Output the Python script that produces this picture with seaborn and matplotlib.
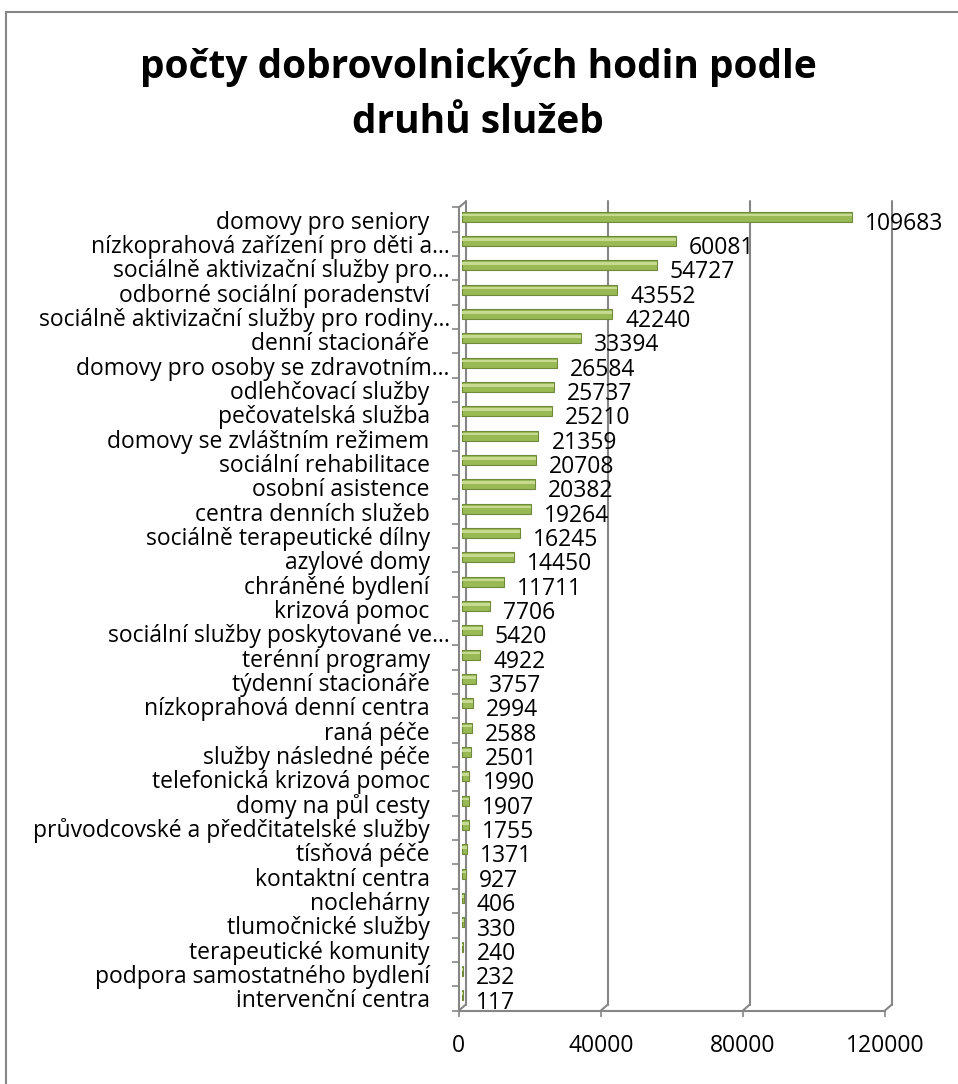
import matplotlib
matplotlib.use('Agg')
import matplotlib.pyplot as plt
import matplotlib.transforms as mtransforms
from matplotlib.patches import ConnectionPatch, Rectangle
import numpy as np
import pandas as pd
import seaborn as sns

services = [
    'domovy pro seniory', 'nízkoprahová zařízení pro děti a…',
    'sociálně aktivizační služby pro…', 'odborné sociální poradenství',
    'sociálně aktivizační služby pro rodiny…', 'denní stacionáře',
    'domovy pro osoby se zdravotním…', 'odlehčovací služby',
    'pečovatelská služba', 'domovy se zvláštním režimem',
    'sociální rehabilitace', 'osobní asistence', 'centra denních služeb',
    'sociálně terapeutické dílny', 'azylové domy', 'chráněné bydlení',
    'krizová pomoc', 'sociální služby poskytované ve…', 'terénní programy',
    'týdenní stacionáře', 'nízkoprahová denní centra', 'raná péče',
    'služby následné péče', 'telefonická krizová pomoc', 'domy na půl cesty',
    'průvodcovské a předčitatelské služby', 'tísňová péče', 'kontaktní centra',
    'noclehárny', 'tlumočnické služby', 'terapeutické komunity',
    'podpora samostatného bydlení', 'intervenční centra',
]
hours = [
    109683, 60081, 54727, 43552, 42240, 33394, 26584, 25737, 25210, 21359,
    20708, 20382, 19264, 16245, 14450, 11711, 7706, 5420, 4922, 3757,
    2994, 2588, 2501, 1990, 1907, 1755, 1371, 927, 406, 330, 240, 232, 117,
]
x_ticks = [0, 40000, 80000, 120000]
title = 'počty dobrovolnických hodin podle\ndruhů služeb'

df = pd.DataFrame({'service': services, 'hours': hours})

sns.set_theme(style='white')
plt.rcParams['font.family'] = ['Open Sans', 'DejaVu Sans']

grey = '#868686'
fs = 16.5
fig = plt.figure(figsize=(9.58, 10.84), dpi=100)
ax = fig.add_axes([0.479, 0.0678, 0.4447, 0.7408])

sns.barplot(data=df, y='service', x='hours', orient='h', color='#98B954',
            saturation=1, width=0.4, edgecolor='#6F8A3A', linewidth=0.8, ax=ax)

# fake 3d depth like the excel chart
depth = mtransforms.ScaledTranslation(0.07, 0.06, fig.dpi_scale_trans)
half = mtransforms.ScaledTranslation(0.035, 0.03, fig.dpi_scale_trans)

bars = list(ax.patches)
for p in bars:
    p.set_transform(ax.transData + half)
    shine = Rectangle((p.get_x(), p.get_y() + p.get_height() * 0.18),
                      p.get_width(), p.get_height() * 0.28,
                      color='#C6DA92', lw=0, transform=ax.transData + half)
    ax.add_patch(shine)

ax.set_xlim(0, 120000)
ax.set_xticks(x_ticks)
ax.set_xticklabels([str(v) for v in x_ticks])
ax.set_xlabel('')
ax.set_ylabel('')

for v in x_ticks:
    ln = ax.axvline(v, color=grey, lw=1.5, clip_on=False, zorder=0)
    ln.set_transform(ln.get_transform() + depth)
    ax.add_artist(ConnectionPatch(xyA=(v, 0), coordsA=ax.get_xaxis_transform(),
                                  xyB=(v, 0), coordsB=ax.get_xaxis_transform() + depth,
                                  color=grey, lw=1.5))
ax.add_artist(ConnectionPatch(xyA=(0, 1), coordsA=ax.transAxes,
                              xyB=(0, 1), coordsB=ax.transAxes + depth,
                              color=grey, lw=1.5))

for side in ['top', 'right']:
    ax.spines[side].set_visible(False)
for side in ['left', 'bottom']:
    ax.spines[side].set_color(grey)
    ax.spines[side].set_linewidth(1.5)

ax.set_yticks(np.arange(-0.5, len(services)), minor=True)
ax.tick_params(axis='y', which='major', length=0, labelsize=fs, labelcolor='black')
ax.tick_params(axis='y', which='minor', length=5, width=1.2, color=grey, direction='out', left=True)
ax.tick_params(axis='x', length=4, width=1.2, color=grey, direction='out', bottom=True,
               pad=13, labelsize=fs, labelcolor='black')

for tick, lab in zip(ax.yaxis.get_major_ticks(), services):
    tick.set_pad(6.5 if lab.endswith('…') else 21)

texts = ax.bar_label(ax.containers[0], labels=[str(v) for v in hours],
                     padding=12, fontsize=fs, color='black')
for t in texts:
    t.xyann = (t.xyann[0], -3)

fig.text(0.499, 1 - 95 / 1084, title, ha='center', va='center', color='black',
         fontsize=28, fontweight='bold', linespacing=1.55)

fig.add_artist(Rectangle((6 / 958, -0.1), 2, 1 - 12 / 1084 + 0.1,
                         transform=fig.transFigure, fill=False,
                         edgecolor=grey, lw=1.5))

fig.savefig('out.png', dpi=100)
